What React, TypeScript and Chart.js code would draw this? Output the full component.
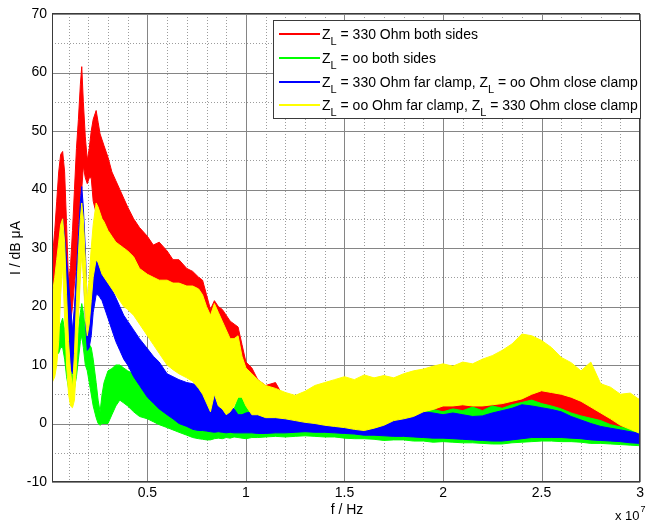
import React, { useEffect, useRef } from "react";
import { Chart, registerables } from "chart.js";

Chart.register(...registerables);

// Frequency samples (units of 1e7 Hz)
const F = [
  0.017, 0.03, 0.04, 0.05, 0.06, 0.07, 0.08, 0.09, 0.10, 0.11, 0.12, 0.13, 0.14, 0.15, 0.16, 0.167, 0.175, 0.185, 0.195, 0.205, 0.215, 0.225, 0.24, 0.25, 0.26, 0.27, 0.28, 0.30,
  0.32, 0.34, 0.36, 0.38, 0.40, 0.43, 0.46, 0.50, 0.53, 0.56, 0.60, 0.63, 0.66, 0.70, 0.73, 0.76, 0.78, 0.80, 0.82, 0.84, 0.86, 0.88, 0.90, 0.92, 0.94, 0.96, 0.98, 1.00,
  1.03, 1.06, 1.10, 1.15, 1.20, 1.25, 1.30, 1.35, 1.40, 1.45, 1.50, 1.55, 1.60, 1.65, 1.70, 1.75, 1.80, 1.85, 1.90, 1.95, 2.00, 2.05, 2.10, 2.15, 2.20, 2.25, 2.30, 2.35, 2.40, 2.45, 2.50, 2.55, 2.60, 2.65, 2.70, 2.75, 2.80, 2.85, 2.90, 2.95, 3.00,
];

// Z_L = 330 Ohm both sides (lower / upper envelope of the noisy trace, dB µA)
const RED_LO = [
  20, 24, 27, 30, 32, 34, 28, 21, 16, 17, 20, 24, 27, 34, 39, 40, 44, 42, 41, 42, 42, 38, 36, 35, 34, 33, 32, 29,
  28, 27, 26.5, 26, 25.5, 24.5, 22.5, 21.5, 21, 20.5, 20.5, 20, 20, 19.5, 19.5, 19, 18, 16, 14.5, 16.5, 15, 13.5, 12, 10.5, 10, 10.5, 7.5, 5.5,
  -1.5, -1.4, -1.5, -1.6, -1.5, -1.4, -1.3, -1.4, -1.4, -1.5, -1.6, -1.7, -1.9, -1.9, -2, -2, -2, -2.1, -2.2, -2.2, -2.2, -2.3, -2.4, -2.5, -2.6, -2.6, -2.6, -2.4, -2.2, -2, -2, -2, -2.1, -2.2, -2.3, -2.5, -2.6, -2.7, -2.8, -3, -3.1,
];
const RED_HI = [
  28, 33, 38, 43, 46, 46.5, 43, 34, 24, 27, 33, 40, 47, 52, 58, 61, 55, 49, 45, 47, 50, 52, 53.5, 51.5, 49.5, 48.5, 47.5, 45.5,
  43, 41.5, 40, 38.5, 37, 35, 33.5, 32, 30.5, 31, 29.5, 28, 28, 26.5, 26, 25, 24.5, 22, 19.5, 21, 20, 19.5, 18.5, 17.5, 17, 16.5, 13.5, 10.5,
  9.5, 7.5, 6.5, 7, 4, 3.5, 3, 3, 2.5, 2, 2, 2, 2, 2, 2, 2.5, 2.5, 3, 3.2, 3.5, 3.6, 3.8, 4, 3.8, 4, 4.3, 4.8, 5.4, 6, 6.5, 6.5, 6.2, 6, 5.5, 5, 4.5, 5.5, 4.8, 4.2, 3.8, 4.2,
];

// Z_L = oo both sides
const GREEN_LO = [
  11, 11, 12, 12, 13, 13, 11, 8, 6, 5, 5, 6, 8, 11, 14, 15, 13, 10, 9, 7, 5, 3, 1, 0, -0.3, 0, 0, 0,
  1.5, 3, 4, 3.5, 3, 2, 1.2, 0.8, 0.3, -0.2, -0.7, -1.1, -1.5, -2, -2.4, -2.6, -2.7, -2.8, -2.8, -2.6, -2.5, -2.6, -2.4, -2.5, -2.3, -2.4, -2.5, -2.6,
  -2.4, -2.4, -2.3, -2.2, -2.3, -2.2, -2.1, -2.2, -2.3, -2.3, -2.5, -2.6, -2.6, -2.7, -2.9, -2.8, -2.8, -3, -3, -3.2, -3.1, -3.2, -3.3, -3.3, -3.4, -3.5, -3.5, -3.3, -3.2, -3.1, -3, -3, -3.1, -3.1, -3.2, -3.4, -3.4, -3.5, -3.6, -3.7, -3.8,
];
const GREEN_HI = [
  14, 14, 15, 16, 17, 18, 16, 13, 11, 9, 8, 10, 13, 16, 19, 20.5, 19, 16, 14, 13.5, 13, 11, 7, 4, 2, 5, 7, 9,
  9.4, 10, 10, 9.5, 9, 8.5, 7, 5, 4, 3, 2, 1.3, 0.5, 0, -0.5, -0.6, -0.6, -0.6, -0.6, -0.5, -0.4, 0, 0.5, 1.5, 2.5, 4.4, 4.5, 3,
  2, 1.5, 1, 0.8, 0.7, 0.5, 0.5, 0.3, 0.2, 0, 0, 0, 0, 0.5, 0.8, 1.2, 1.6, 2.2, 2.5, 2.4, 2, 2.5, 2.2, 2.8, 2.2, 3, 2.6, 3.2, 3.6, 4, 3.4, 3, 2.5, 1.8, 1.3, 0.9, 0.5, -0.2, -0.6, -1, -1.2,
];

// Z_L = 330 Ohm far clamp, Z_L = oo Ohm close clamp
const BLUE_LO = [
  14, 17, 20, 23, 27, 30, 24, 18, 13, 9.5, 8.5, 10, 15, 21, 27, 31, 27, 18, 12.5, 13, 15, 19, 22, 22, 21.5, 21, 20, 18,
  16, 14, 12.5, 11, 10, 8, 6.5, 4.5, 3.5, 2.5, 1.5, 0.8, 0, -0.5, -1, -1.2, -1.2, -1.3, -1.4, -1.5, -1.4, -1.5, -1.6, -1.5, -1.6, -1.6, -1.6, -1.6,
  -1.6, -1.7, -1.7, -1.6, -1.6, -1.5, -1.4, -1.5, -1.5, -1.6, -1.7, -1.8, -2, -2, -2.1, -2.2, -2.2, -2.3, -2.4, -2.5, -2.5, -2.6, -2.7, -2.8, -2.9, -3, -3, -2.8, -2.6, -2.4, -2.4, -2.4, -2.4, -2.5, -2.6, -2.8, -2.9, -3, -3.1, -3.3, -3.4,
];
const BLUE_HI = [
  20, 23, 27, 30, 33, 35, 32, 28, 24, 20, 16, 20, 26, 32, 38, 40.5, 37, 30, 20, 18, 22, 26, 28, 27.5, 27, 26, 25, 24,
  23, 21.5, 20, 18.5, 17.5, 16, 14.5, 12.8, 11.5, 10.5, 8.5, 8, 7.5, 7, 6.8, 6.5, 6, 4.5, 5.5, 5.3, 4, 3.5, 3, 3, 2.5, 1.5, 1.5, 1.8,
  2, 2, 1.8, 1.6, 1.5, 1.3, 1.1, 1, 0.8, 0.6, 0.5, 0.4, 0.5, 1, 1.3, 1.7, 2, 2, 2, 1.8, 1.5, 1.8, 1.5, 1.2, 1.3, 1.8, 2.2, 2.6, 3.2, 3, 2.7, 2.4, 2, 1.2, 0.6, 0, -0.5, -0.8, -1.1, -1.4, -1.7,
];

// Z_L = oo Ohm far clamp, Z_L = 330 Ohm close clamp
const YEL_LO = [
  7, 8, 10, 14, 22, 27, 18, 10, 5, 3, 2.7, 4, 10, 18, 25, 29, 25, 18, 15, 17, 21, 25, 28, 27.5, 26.5, 25.5, 25, 24,
  23, 22, 21, 20, 19.5, 18.5, 17, 15, 13.5, 12, 10, 9.2, 8.5, 7.8, 7.2, 6, 5, 3.5, 2, 5, 3, 2.5, 1.5, 2, 3, 4.5, 4.5, 3,
  1.5, 1.5, 1, 1, 0.8, 0.5, 0.2, 0, -0.3, -0.5, -0.7, -1, -1.2, -0.8, -0.3, 0.5, 0.8, 1.2, 2, 2.4, 3, 3, 3.2, 3, 3, 3.2, 3.4, 3.8, 4.2, 5, 5.6, 5.3, 5, 4.5, 3.8, 2.8, 1.8, 0.8, -0.3, -1, -1.7,
];
const YEL_HI = [
  22, 25, 28, 31, 34, 35, 31, 22, 14, 9, 6, 12, 21, 29, 35, 37.7, 35, 28, 21, 25, 30, 34, 37.7, 37, 36, 35, 34.5, 33,
  32, 31, 30.5, 30, 29.5, 28.5, 26.5, 25.5, 25, 24.5, 24.5, 24, 24, 23.5, 23.5, 23, 22, 20, 18.5, 20.5, 19, 17.5, 16, 14.5, 14.5, 15, 11.5, 9.5,
  8.5, 7.5, 6.5, 6, 5.3, 4.8, 5.5, 6.5, 7, 7.5, 8, 7.5, 8.3, 7.8, 8.2, 7.8, 8.5, 9, 9.3, 9.8, 10.2, 9.8, 10.5, 10.2, 11, 11.6, 12.5, 13.6, 15.3, 15, 14.2, 13, 11.3, 10.4, 9, 10.5, 6.8, 6.2, 5, 5.2, 4,
];

const X_TICKS = [0.5, 1, 1.5, 2, 2.5, 3];
const Y_TICKS = [-10, 0, 10, 20, 30, 40, 50, 60, 70];
const LEGEND_LABELS = [
  "Z_L = 330 Ohm both sides",
  "Z_L = oo both sides",
  "Z_L = 330 Ohm far clamp, Z_L = oo Ohm close clamp",
  "Z_L = oo Ohm far clamp, Z_L = 330 Ohm close clamp",
];
const COLORS = ["#ff0000", "#00ff00", "#0000ff", "#ffff00"];
const X_TITLE = "f / Hz";
const Y_TITLE = "I / dB \u03bcA";

const FONT = '"Liberation Sans", Arial, Helvetica, sans-serif';

const decor = {
  id: "decor",
  beforeDatasetsDraw(chart: any) {
    const { ctx, chartArea: a, scales } = chart;
    const x = scales.x, y = scales.y;
    ctx.save();
    ctx.lineWidth = 1;
    // minor dotted grid
    ctx.strokeStyle = "#9c9c9c";
    ctx.setLineDash([1, 2]);
    ctx.beginPath();
    for (let i = 1; i < 30; i++) {
      if (i % 5 === 0) continue;
      const px = Math.round(x.getPixelForValue(i / 10)) + 0.5;
      ctx.moveTo(px, a.top);
      ctx.lineTo(px, a.bottom);
    }
    for (let v = -5; v < 70; v += 10) {
      const py = Math.round(y.getPixelForValue(v)) + 0.5;
      ctx.moveTo(a.left, py);
      ctx.lineTo(a.right, py);
    }
    ctx.stroke();
    // major solid grid
    ctx.setLineDash([]);
    ctx.strokeStyle = "#858585";
    ctx.beginPath();
    X_TICKS.forEach((v) => {
      const px = Math.round(x.getPixelForValue(v)) + 0.5;
      ctx.moveTo(px, a.top);
      ctx.lineTo(px, a.bottom);
    });
    Y_TICKS.forEach((v) => {
      const py = Math.round(y.getPixelForValue(v)) + 0.5;
      ctx.moveTo(a.left, py);
      ctx.lineTo(a.right, py);
    });
    ctx.stroke();
    ctx.restore();
  },
  afterDatasetsDraw(chart: any) {
    const { ctx, chartArea: a } = chart;
    ctx.save();
    ctx.strokeStyle = "#3a3a3a";
    ctx.lineWidth = 1;
    ctx.strokeRect(Math.round(a.left) + 0.5, Math.round(a.top) - 0.5, Math.round(a.right - a.left) - 1, Math.round(a.bottom - a.top) + 0);
    ctx.restore();
  },
  afterDraw(chart: any) {
    const { ctx } = chart;
    ctx.save();
    // legend box
    const L = 273, T = 20, R = 641, B = 119;
    ctx.fillStyle = "#ffffff";
    ctx.fillRect(L, T, R - L, B - T);
    ctx.strokeStyle = "#3a3a3a";
    ctx.lineWidth = 1;
    ctx.strokeRect(L + 0.5, T + 0.5, R - L - 1, B - T - 1);
    const rows = [34, 58, 82, 105];
    LEGEND_LABELS.forEach((label, i) => {
      const ry = rows[i];
      ctx.strokeStyle = COLORS[i];
      ctx.lineWidth = 2;
      ctx.beginPath();
      ctx.moveTo(279, ry);
      ctx.lineTo(320, ry);
      ctx.stroke();
      ctx.fillStyle = "#000";
      ctx.textAlign = "left";
      ctx.textBaseline = "alphabetic";
      let tx = 322;
      const base = ry + 5;
      const parts = label.split("_L");
      parts.forEach((p, k) => {
        if (k > 0) {
          ctx.font = `11px ${FONT}`;
          ctx.fillText("L", tx, base + 6);
          tx += ctx.measureText("L").width;
        }
        ctx.font = `14px ${FONT}`;
        ctx.fillText(p, tx, base);
        tx += ctx.measureText(p).width;
      });
    });
    // axis titles
    ctx.fillStyle = "#000";
    ctx.font = `14px ${FONT}`;
    ctx.textAlign = "center";
    ctx.textBaseline = "alphabetic";
    ctx.fillText(X_TITLE, 347, 514);
    ctx.save();
    ctx.translate(20, 248);
    ctx.rotate(-Math.PI / 2);
    ctx.fillText(Y_TITLE, 0, 0);
    ctx.restore();
    // exponent label
    ctx.textAlign = "left";
    ctx.font = `13px ${FONT}`;
    ctx.fillText("x 10", 615, 520);
    const w = ctx.measureText("x 10").width;
    ctx.font = `9px ${FONT}`;
    ctx.fillText("7", 615 + w + 1, 512);
    ctx.restore();
  },
};

export default function App() {
  const ref = useRef<HTMLCanvasElement | null>(null);
  useEffect(() => {
    if (!ref.current) return;
    const series = [
      { lo: RED_LO, hi: RED_HI },
      { lo: GREEN_LO, hi: GREEN_HI },
      { lo: BLUE_LO, hi: BLUE_HI },
      { lo: YEL_LO, hi: YEL_HI },
    ];
    const datasets: any[] = [];
    series.forEach((s, k) => {
      datasets.push({
        data: F.map((x, i) => ({ x, y: s.lo[i] })),
        borderColor: COLORS[k],
        borderWidth: 1,
        pointRadius: 0,
        fill: false,
        order: 20 - 2 * k,
      });
      datasets.push({
        data: F.map((x, i) => ({ x, y: s.hi[i] })),
        borderColor: COLORS[k],
        backgroundColor: COLORS[k],
        borderWidth: 1,
        pointRadius: 0,
        fill: "-1",
        order: 19 - 2 * k,
      });
    });
    const chart = new Chart(ref.current, {
      type: "line",
      data: { datasets },
      options: {
        animation: false,
        responsive: false,
        devicePixelRatio: 1,
        layout: { padding: { left: 0, right: 1, top: 14, bottom: 0 } },
        plugins: { legend: { display: false }, tooltip: { enabled: false } },
        elements: { line: { tension: 0 }, point: { radius: 0 } },
        scales: {
          x: {
            type: "linear",
            min: 0.016,
            max: 3,
            grid: { display: false, drawTicks: false, tickLength: 0 },
            border: { display: false },
            afterBuildTicks: (s: any) => {
              s.ticks = X_TICKS.map((v) => ({ value: v }));
            },
            afterFit: (s: any) => {
              s.height = 43;
            },
            ticks: {
              autoSkip: false,
              maxRotation: 0,
              padding: 3,
              color: "#000",
              font: { family: FONT, size: 14 },
              callback: (v: any) => String(v),
            },
          },
          y: {
            type: "linear",
            min: -10,
            max: 70,
            grid: { display: false, drawTicks: false, tickLength: 0 },
            border: { display: false },
            afterBuildTicks: (s: any) => {
              s.ticks = Y_TICKS.map((v) => ({ value: v }));
            },
            afterFit: (s: any) => {
              s.width = 52;
            },
            ticks: {
              autoSkip: false,
              padding: 5,
              color: "#000",
              font: { family: FONT, size: 14 },
              callback: (v: any) => String(v),
            },
          },
        },
      },
      plugins: [decor],
    });
    return () => chart.destroy();
  }, []);
  return (
    <div style={{ position: "absolute", left: 0, top: 0, width: 647, height: 525, background: "#fff" }}>
      <canvas ref={ref} width={647} height={525} style={{ display: "block" }} />
    </div>
  );
}
